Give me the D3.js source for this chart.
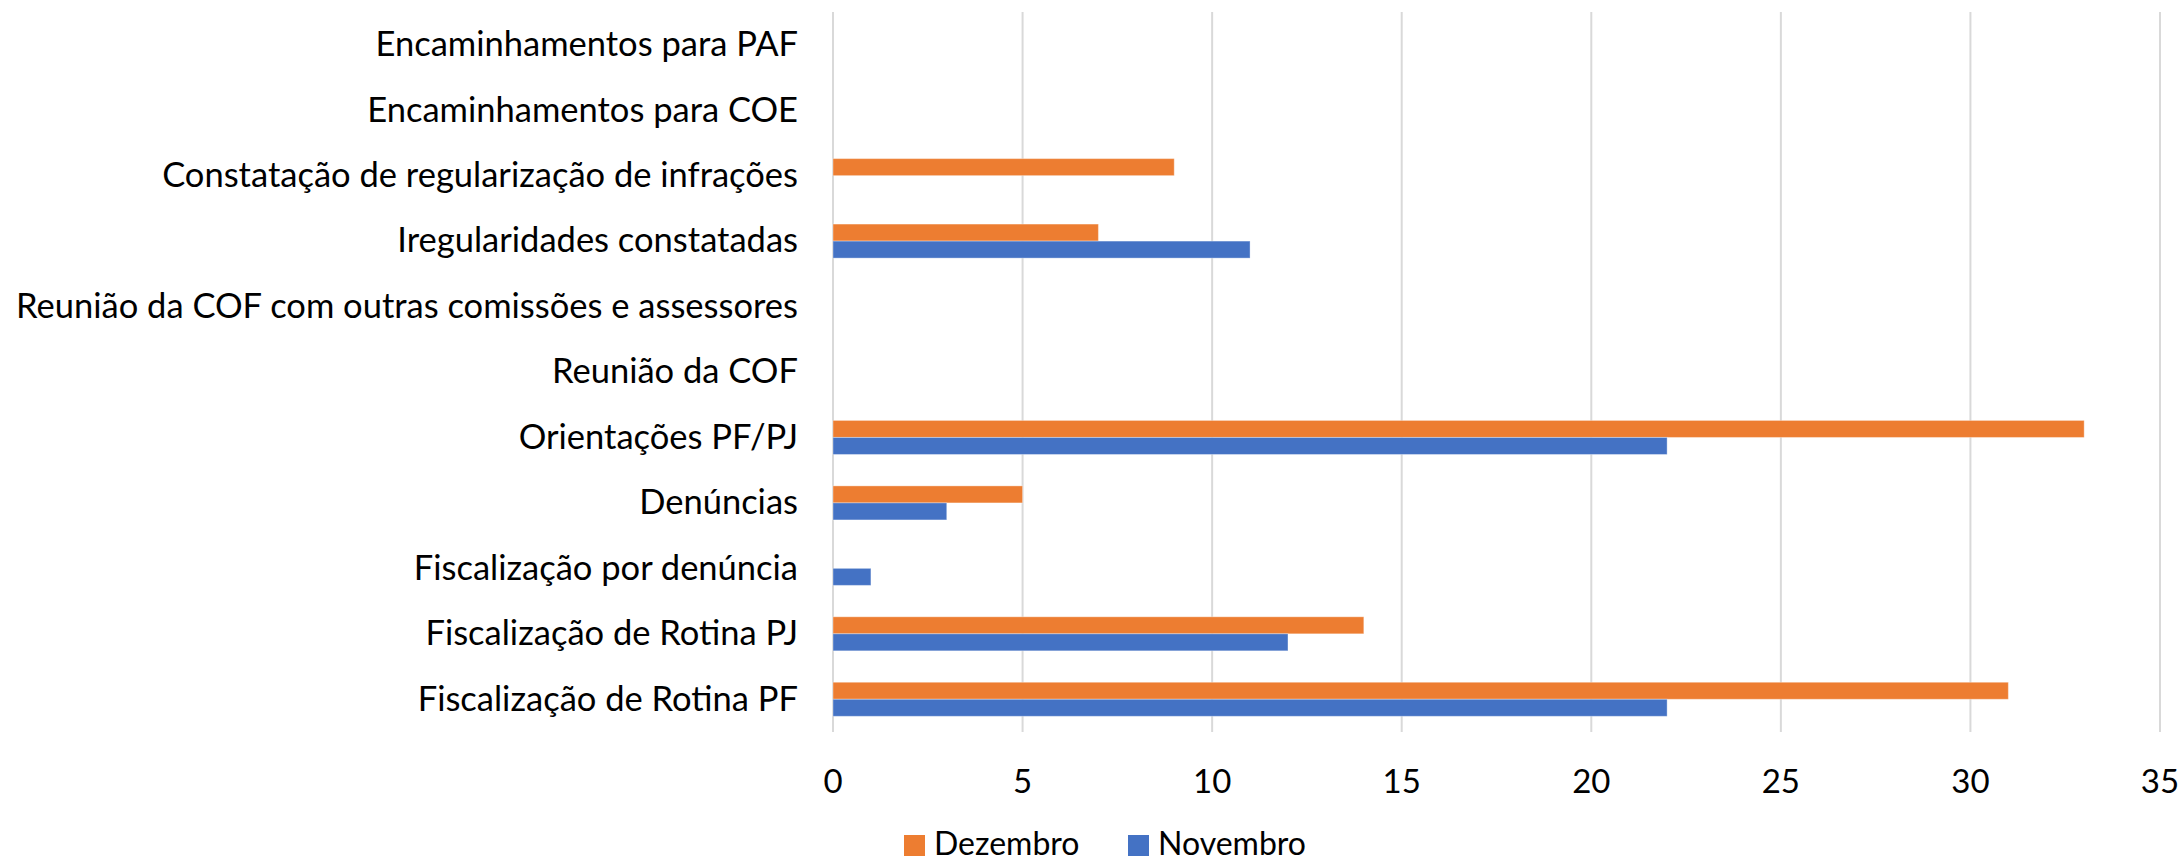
<!DOCTYPE html>
<html>
<head>
<meta charset="utf-8">
<script src="https://cdn.jsdelivr.net/npm/d3@7"></script>
<style>
  html, body { margin: 0; padding: 0; background: #fff; }
  svg { display: block; font-family: Lato, "Open Sans", sans-serif; }
</style>
</head>
<body>
<div id="chart"></div>
<script>
// categories, top to bottom as drawn
const categories = [
  "Encaminhamentos para PAF",
  "Encaminhamentos para COE",
  "Constatação de regularização de infrações",
  "Iregularidades constatadas",
  "Reunião da COF com outras comissões e assessores",
  "Reunião da COF",
  "Orientações PF/PJ",
  "Denúncias",
  "Fiscalização por denúncia",
  "Fiscalização de Rotina PJ",
  "Fiscalização de Rotina PF"
];
const seriesNames = ["Dezembro", "Novembro"];
const dezembro = [0, 0, 9, 7, 0, 0, 33, 5, 0, 14, 31];
const novembro = [0, 0, 0, 11, 0, 0, 22, 3, 1, 12, 22];
const xTicks = [0, 5, 10, 15, 20, 25, 30, 35];

const colors = { Dezembro: "#ED7D31", Novembro: "#4472C4" };

const width = 2183, height = 863;
const margin = { top: 12, right: 23, bottom: 131, left: 833 };
const innerW = width - margin.left - margin.right;
const innerH = height - margin.top - margin.bottom;

const svg = d3.select("#chart").append("svg")
  .attr("width", width)
  .attr("height", height);

const g = svg.append("g")
  .attr("transform", `translate(${margin.left},${margin.top})`);

const x = d3.scaleLinear().domain([0, 35]).range([0, innerW]);
const y = d3.scaleBand().domain(categories).range([0, innerH]).paddingInner(0.48).paddingOuter(0.24);
const ySub = d3.scaleBand().domain(seriesNames).range([0, y.bandwidth()]);

// gridlines
g.append("g")
  .selectAll("line")
  .data(xTicks)
  .join("line")
  .attr("x1", d => x(d)).attr("x2", d => x(d))
  .attr("y1", 0).attr("y2", innerH)
  .attr("stroke", "#D9D9D9")
  .attr("stroke-width", 2);

// bars
const rows = categories.map((c, i) => ({ cat: c, Dezembro: dezembro[i], Novembro: novembro[i] }));
const groups = g.append("g").selectAll("g")
  .data(rows)
  .join("g")
  .attr("transform", d => `translate(0,${y(d.cat)})`);

groups.selectAll("rect")
  .data(d => seriesNames.map(s => ({ s, v: d[s] })).filter(e => e.v > 0))
  .join("rect")
  .attr("x", x(0))
  .attr("y", d => ySub(d.s))
  .attr("width", d => x(d.v) - x(0))
  .attr("height", ySub.bandwidth())
  .attr("fill", d => colors[d.s])
  .attr("stroke", "#fff")
  .attr("stroke-opacity", 0.35)
  .attr("stroke-width", 1);

// category labels
g.append("g")
  .selectAll("text")
  .data(categories)
  .join("text")
  .attr("x", -35)
  .attr("y", d => y(d) + y.bandwidth() / 2)
  .attr("dy", "0.33em")
  .attr("text-anchor", "end")
  .style("font-size", "34.5px")
  .style("fill", "#000")
  .text(d => d);

// x tick labels
g.append("g")
  .selectAll("text")
  .data(xTicks)
  .join("text")
  .attr("x", d => x(d))
  .attr("y", innerH + 61)
  .attr("text-anchor", "middle")
  .style("font-size", "33px")
  .style("fill", "#000")
  .text(d => d);

// legend (kept just inside the bottom edge)
const legend = svg.append("g").attr("transform", "translate(904,835)");
const legendX = [0, 224];
seriesNames.forEach((s, i) => {
  const item = legend.append("g").attr("transform", `translate(${legendX[i]},0)`);
  item.append("rect")
    .attr("width", 21).attr("height", 21)
    .attr("fill", colors[s]);
  item.append("text")
    .attr("x", 30)
    .attr("y", 20)
    .style("font-size", "32px")
    .style("fill", "#000")
    .text(s);
});
</script>
</body>
</html>
